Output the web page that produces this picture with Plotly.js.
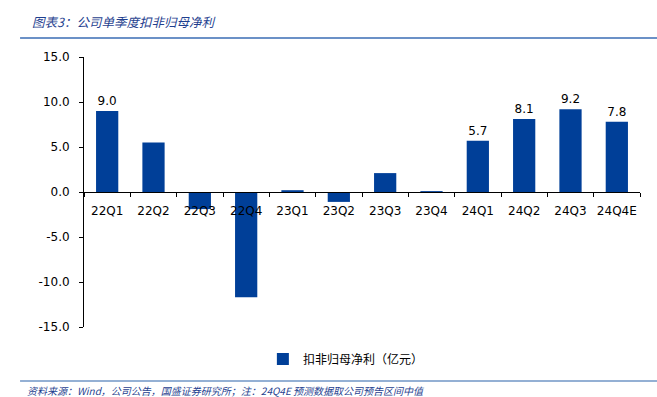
<!DOCTYPE html>
<html><head><meta charset="utf-8">
<script src="https://cdn.plot.ly/plotly-3.0.1.min.js"></script>
<style>html,body{margin:0;padding:0;background:#fff;}#chart{width:657px;height:397px;}</style>
</head><body><div id="chart"></div>
<script>
const categories = ["22Q1","22Q2","22Q3","22Q4","23Q1","23Q2","23Q3","23Q4","24Q1","24Q2","24Q3","24Q4E"];
const profit = [9.0, 5.5, -1.9, -11.7, 0.2, -1.1, 2.1, 0.1, 5.7, 8.1, 9.2, 7.8];
const labelText = ["9.0","","","","","","","","5.7","8.1","9.2","7.8"];
const yTicks = [-15, -10, -5, 0, 5, 10, 15];
const yTickText = ["-15.0","-10.0","-5.0","0.0","5.0","10.0","15.0"];
const seriesName = "扣非归母净利（亿元）";
const titleText = "图表3：公司单季度扣非归母净利";
const sourceText = "资料来源：Wind，公司公告，国盛证券研究所；注：24Q4E 预测数据取公司预告区间中值";

const font = "'DejaVu Sans', 'Noto Sans CJK SC', sans-serif";
const cjk = "'Noto Sans CJK SC', sans-serif";

const trace = {
  type: "bar", x: categories, y: profit, name: seriesName,
  marker: {color: "#003F98"},
  text: labelText, textposition: "outside", cliponaxis: false,
  textfont: {family: font, size: 12, color: "#000"},
  showlegend: true
};

const layout = {
  width: 657, height: 397,
  margin: {l: 84, r: 17, t: 57, b: 70},
  paper_bgcolor: "#fff", plot_bgcolor: "#fff",
  bargap: 0.52,
  xaxis: {
    type: "category", anchor: "free", position: 0.5,
    showline: true, linecolor: "#000", linewidth: 1,
    ticks: "outside", ticklen: 4, tickcolor: "#000", tickson: "boundaries",
    tickangle: 0, ticklabelstandoff: 8,
    showgrid: false, zeroline: false,
    tickfont: {family: font, size: 12, color: "#000"},
    domain: [0, 1]
  },
  yaxis: {
    domain: [0, 1], range: [-15, 15],
    tickvals: yTicks, ticktext: yTickText,
    showline: true, linecolor: "#000", linewidth: 1,
    ticks: "outside", ticklen: 4, tickcolor: "#000",
    ticklabelstandoff: 7,
    showgrid: false, zeroline: false,
    tickfont: {family: font, size: 12, color: "#000"}
  },
  showlegend: true,
  legend: {orientation: "h", x: 0.471, xanchor: "center", y: -0.065, yanchor: "top",
    bgcolor: "rgba(0,0,0,0)",
    font: {family: cjk, size: 12, color: "#000"}, itemwidth: 30},
  annotations: [
    {text: "<i>" + titleText + "</i>", xref: "paper", yref: "paper", x: -0.097, y: 1.13,
     xanchor: "left", yanchor: "middle", showarrow: false,
     font: {family: cjk, size: 12.5, color: "#1F3F8F"}},
    {text: "<i>" + sourceText + "</i>", xref: "paper", yref: "paper", x: -0.106, y: -0.235,
     xanchor: "left", yanchor: "middle", showarrow: false,
     font: {family: cjk, size: 10, color: "#1F3F8F"}}
  ],
  shapes: [
    {type: "line", xref: "paper", yref: "paper", x0: -0.115, x1: 1.031, y0: 1.07, y1: 1.07,
     line: {color: "#3A6DB5", width: 1.5}},
    {type: "line", xref: "paper", yref: "paper", x0: -0.115, x1: 1.031, y0: -0.2, y1: -0.2,
     line: {color: "#94B0D4", width: 2}}
  ]
};
Plotly.newPlot("chart", [trace], layout, {displayModeBar: false, staticPlot: true});
</script></body></html>
